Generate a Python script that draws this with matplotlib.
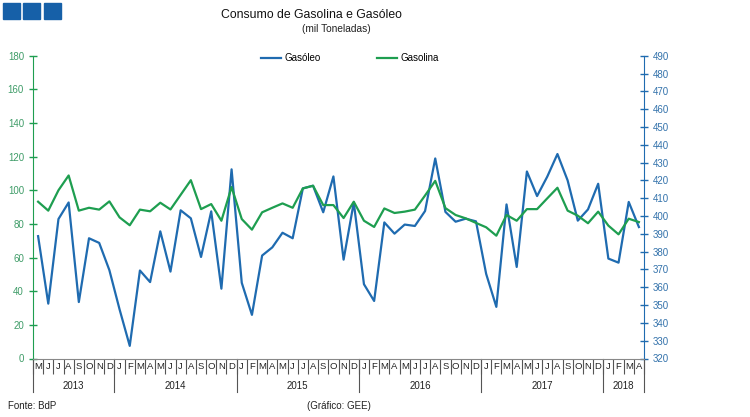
import matplotlib.pyplot as plt
from matplotlib.patches import Rectangle
from matplotlib.lines import Line2D
import matplotlib.transforms as mtransforms

plt.rcParams['font.family'] = ['Liberation Sans', 'DejaVu Sans']

# Meses de Maio 2013 a Abril 2018
months = ['M', 'J', 'J', 'A', 'S', 'O', 'N', 'D'] + \
         ['J', 'F', 'M', 'A', 'M', 'J', 'J', 'A', 'S', 'O', 'N', 'D'] * 4 + \
         ['J', 'F', 'M', 'A']
years = ['2013', '2014', '2015', '2016', '2017', '2018']
months_per_year = [8, 12, 12, 12, 12, 4]

# Gasolina (eixo esquerdo, mil toneladas)
gasolina = [93.2, 87.9, 100.0, 108.8, 87.9, 89.6, 88.5, 93.4,
            83.9, 79.2, 88.5, 87.5, 92.6, 88.6, 97.3, 106.0, 88.8, 91.8, 81.9, 101.9,
            82.9, 76.6, 86.9, 89.6, 92.2, 89.6, 101.1, 102.7, 91.2, 91.2, 83.5, 93.2,
            81.9, 78.2, 89.2, 86.5, 87.3, 88.5, 96.9, 105.6, 89.4, 85.3, 83.3, 80.6,
            78.0, 73.0, 85.3, 81.9, 88.8, 88.8, 95.2, 101.5, 87.9, 84.9, 80.4, 87.3,
            79.0, 73.8, 83.1, 81.1]

# Gasóleo (eixo direito, mil toneladas)
gasoleo = [388.7, 350.8, 398.3, 407.6, 351.7, 387.5, 384.9, 369.6,
           347.6, 327.1, 369.4, 362.9, 391.4, 368.8, 403.2, 398.7, 377.0, 402.6, 359.2, 426.2,
           362.5, 344.5, 377.8, 382.4, 390.6, 387.5, 415.5, 417.0, 402.1, 422.2, 375.5, 407.6,
           361.7, 352.3, 396.4, 390.1, 395.2, 394.4, 402.8, 432.3, 402.3, 396.8, 398.5, 397.0,
           367.5, 349.0, 406.5, 371.4, 425.0, 411.2, 422.1, 434.8, 420.0, 397.4, 403.7, 418.1,
           376.1, 373.8, 407.9, 393.8]

blue = '#1f6bb0'
green = '#1e9e50'
x = list(range(len(months)))

fig = plt.figure(figsize=(7.5, 4.17), dpi=100)
ax = fig.add_axes([33 / 750, 1 - 358.5 / 417, 611 / 750, 302.8 / 417])
ax2 = ax.twinx()

ax.plot(x, gasolina, color=green, lw=1.6)
ax2.plot(x, gasoleo, color=blue, lw=1.6)
ax.set_zorder(ax2.get_zorder() + 1)
ax.patch.set_visible(False)

ax.set_xlim(-0.5, len(months) - 0.5)
ax.set_ylim(0, 180)
ax.set_yticks(range(0, 181, 20))
ax2.set_ylim(320, 490)
ax2.set_yticks(range(320, 491, 10))

for s in ['top']:
    ax.spines[s].set_visible(False)
    ax2.spines[s].set_visible(False)
ax.spines['left'].set_color(green)
ax2.spines['left'].set_visible(False)
ax2.spines['right'].set_color(blue)
ax.spines['right'].set_visible(False)
ax2.spines['bottom'].set_visible(False)
ax.spines['bottom'].set_color('#888888')

ax.tick_params(axis='y', direction='inout', length=6, width=1, color=green,
               labelcolor='#3f9c68', labelsize=7)
ax2.tick_params(axis='y', direction='inout', length=6, width=1, color=blue,
                labelcolor='#3372ab', labelsize=7)

# Eixo X: letras dos meses e separadores
ax.set_xticks(x)
ax.set_xticklabels([])
ax.tick_params(axis='x', which='major', length=0)
ax.set_xticks([i - 0.5 for i in range(len(months) + 1)], minor=True)
ax.tick_params(axis='x', which='minor', length=11, width=0.8, color='#555555')

trans = mtransforms.blended_transform_factory(ax.transData, ax.transAxes)
for i, m in enumerate(months):
    ax.text(i, -0.025, m, transform=trans, ha='center', va='center', fontsize=6.8, color='#222222')

start = 0
for yr, n in zip(years, months_per_year):
    ax.text(start + (n - 1) / 2, -0.091, yr, transform=trans, ha='center', va='center',
            fontsize=7, color='#222222')
    ax.add_line(Line2D([start - 0.5, start - 0.5], [0, -0.11], transform=trans,
                       color='#555555', lw=0.8, clip_on=False))
    start += n
ax.add_line(Line2D([start - 0.5, start - 0.5], [0, -0.11], transform=trans,
                   color='#555555', lw=0.8, clip_on=False))

# Títulos
fig.text(311 / 750, 1 - 15 / 417, 'Consumo de Gasolina e Gasóleo', ha='center', va='center',
         fontsize=8.8, color='#111111')
fig.text(336 / 750, 1 - 29 / 417, '(mil Toneladas)', ha='center', va='center',
         fontsize=7.3, color='#222222')

# Legenda
handles = [Line2D([], [], color=blue, lw=1.6), Line2D([], [], color=green, lw=1.6)]
fig.legend(handles, ['Gasóleo', 'Gasolina'], loc='center', bbox_to_anchor=(350 / 750, 1 - 58 / 417),
           ncol=2, frameon=False, fontsize=7, handlelength=2.0, handletextpad=0.4, columnspacing=5.8)

# Rodapé
fig.text(8 / 750, 1 - 406 / 417, 'Fonte: BdP', ha='left', va='center', fontsize=7, color='#222222')
fig.text(307 / 750, 1 - 406 / 417, '(Gráfico: GEE)', ha='left', va='center', fontsize=7, color='#222222')

# Quadrados do logótipo
for x0 in [3, 23, 44]:
    fig.patches.append(Rectangle((x0 / 750, 1 - 19 / 417), 17 / 750, 16 / 417,
                                 transform=fig.transFigure, color='#1660a8', zorder=5))

fig.savefig('out.png', dpi=100)
